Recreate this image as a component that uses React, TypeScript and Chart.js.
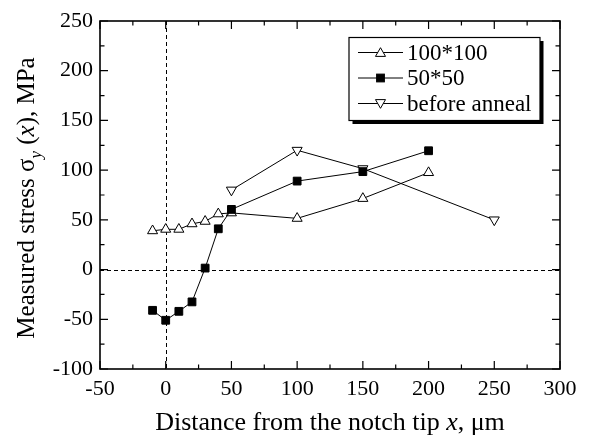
import React, { useEffect, useRef } from 'react';
import { Chart, registerables } from 'chart.js';

Chart.register(...registerables);

const FONT = '"Liberation Serif", "Times New Roman", Times, serif';

// Series: 100*100 (open up-triangles)
const xA = [-10, 0, 10, 20, 30, 40, 50, 100, 150, 200];
const yA = [39, 40.5, 40.5, 46, 48.5, 56, 57, 51.5, 71.5, 97.5];
// Series: 50*50 (filled squares)
const xB = [-10, 0, 10, 20, 30, 40, 50, 100, 150, 200];
const yB = [-41, -51, -42, -32.5, 1.5, 41, 60.5, 89, 98.5, 119.5];
// Series: before anneal (open down-triangles)
const xC = [50, 100, 150, 250];
const yC = [80, 120, 101.5, 50];

const legendLabels = ['100*100', '50*50', 'before anneal'];
const xRange = [-50, 300];
const yRange = [-100, 250];
const majorStep = 50;
const minorStep = 25;

const toPts = (xs: number[], ys: number[]) => xs.map((x, i) => ({ x, y: ys[i] }));

function drawTri(ctx: CanvasRenderingContext2D, cx: number, cy: number, r: number, down: boolean) {
  let a = down ? Math.PI : 0;
  ctx.beginPath();
  for (let i = 0; i < 3; i++) {
    const px = cx + Math.sin(a) * r;
    const py = cy - Math.cos(a) * r;
    if (i === 0) ctx.moveTo(px, py); else ctx.lineTo(px, py);
    a += (2 * Math.PI) / 3;
  }
  ctx.closePath();
  ctx.fillStyle = '#fff';
  ctx.fill();
  ctx.stroke();
}

function drawSquare(ctx: CanvasRenderingContext2D, cx: number, cy: number, r: number) {
  const s = Math.SQRT1_2 * r;
  ctx.fillStyle = '#000';
  ctx.fillRect(cx - s, cy - s, 2 * s, 2 * s);
  ctx.strokeRect(cx - s, cy - s, 2 * s, 2 * s);
}

function drawParts(ctx: CanvasRenderingContext2D, parts: { t: string; f: string; dy?: number }[], cx: number, by: number) {
  let total = 0;
  for (const p of parts) { ctx.font = p.f; total += ctx.measureText(p.t).width; }
  let x = cx - total / 2;
  for (const p of parts) {
    ctx.font = p.f;
    ctx.fillText(p.t, x, by + (p.dy || 0));
    x += ctx.measureText(p.t).width;
  }
}

const framePlugin = {
  id: 'framePlugin',
  beforeDatasetsDraw(chart: any) {
    const { ctx, chartArea: a, scales } = chart;
    const xs = scales.x, ys = scales.y;
    ctx.save();
    ctx.strokeStyle = '#000';
    ctx.lineWidth = 1;
    ctx.setLineDash([4, 3]);
    const x0 = Math.round(xs.getPixelForValue(0)) + 0.5;
    const y0 = Math.round(ys.getPixelForValue(0)) + 0.5;
    ctx.beginPath();
    ctx.moveTo(x0, a.top); ctx.lineTo(x0, a.bottom);
    ctx.moveTo(a.left, y0); ctx.lineTo(a.right, y0);
    ctx.stroke();
    ctx.restore();
  },
  afterDraw(chart: any) {
    const { ctx, chartArea: a, scales } = chart;
    const xs = scales.x, ys = scales.y;
    ctx.save();
    ctx.strokeStyle = '#000';
    ctx.setLineDash([]);
    // ticks
    ctx.lineWidth = 1.2;
    ctx.beginPath();
    for (let v = xRange[0]; v <= xRange[1]; v += minorStep) {
      const len = v % majorStep === 0 ? 8 : 4.5;
      const px = xs.getPixelForValue(v);
      ctx.moveTo(px, a.bottom); ctx.lineTo(px, a.bottom - len);
      ctx.moveTo(px, a.top); ctx.lineTo(px, a.top + len);
    }
    for (let v = yRange[0]; v <= yRange[1]; v += minorStep) {
      const len = v % majorStep === 0 ? 8 : 4.5;
      const py = ys.getPixelForValue(v);
      ctx.moveTo(a.left, py); ctx.lineTo(a.left + len, py);
      ctx.moveTo(a.right, py); ctx.lineTo(a.right - len, py);
    }
    ctx.stroke();
    // frame
    ctx.lineWidth = 1.6;
    ctx.strokeRect(a.left, a.top, a.right - a.left, a.bottom - a.top);

    // legend
    const L = 349, T = 37.5, R = 540, B = 120.5;
    ctx.fillStyle = '#000';
    ctx.fillRect(L + 3.5, T + 3.5, R - L, B - T);
    ctx.fillStyle = '#fff';
    ctx.fillRect(L, T, R - L, B - T);
    ctx.lineWidth = 1.2;
    ctx.strokeRect(L, T, R - L, B - T);
    const rows = [52.5, 78, 103.5];
    ctx.lineWidth = 1;
    rows.forEach((ry, i) => {
      ctx.beginPath();
      ctx.moveTo(358, ry); ctx.lineTo(403, ry);
      ctx.strokeStyle = '#000';
      ctx.stroke();
      if (i === 0) drawTri(ctx, 380.5, ry + 1, 5.8, false);
      else if (i === 1) drawSquare(ctx, 380.5, ry, 5.5);
      else drawTri(ctx, 380.5, ry - 1, 5.8, true);
      ctx.fillStyle = '#000';
      ctx.font = `23px ${FONT}`;
      ctx.textAlign = 'left';
      ctx.textBaseline = 'middle';
      ctx.fillText(legendLabels[i], 407, ry + 1);
    });

    // axis titles
    ctx.fillStyle = '#000';
    ctx.textAlign = 'left';
    ctx.textBaseline = 'alphabetic';
    const N = `26px ${FONT}`;
    const I = `italic 26px ${FONT}`;
    drawParts(ctx, [
      { t: 'Distance from the notch tip ', f: N },
      { t: 'x', f: I },
      { t: ', \u03bcm', f: N },
    ], (a.left + a.right) / 2, 430);

    const N2 = `25px ${FONT}`;
    const I2 = `italic 25px ${FONT}`;
    ctx.save();
    ctx.translate(34, 198);
    ctx.rotate(-Math.PI / 2);
    drawParts(ctx, [
      { t: 'Measured stress \u03c3', f: N2 },
      { t: 'y', f: `italic 17px ${FONT}`, dy: 7 },
      { t: ' (', f: N2 },
      { t: 'x', f: I2 },
      { t: '), MPa', f: N2 },
    ], 0, 0);
    ctx.restore();

    ctx.restore();
  },
};

export default function App() {
  const ref = useRef<HTMLCanvasElement | null>(null);
  useEffect(() => {
    if (!ref.current) return;
    const common = {
      showLine: true,
      borderColor: '#000',
      borderWidth: 1,
      pointBorderColor: '#000',
      pointBorderWidth: 1,
      pointHoverRadius: 6,
    };
    const chart = new Chart(ref.current, {
      type: 'scatter',
      data: {
        datasets: [
          {
            ...common,
            label: legendLabels[1],
            data: toPts(xB, yB),
            pointStyle: 'rect',
            pointRadius: 5.5,
            pointBackgroundColor: '#000',
          },
          {
            ...common,
            label: legendLabels[0],
            data: toPts(xA, yA),
            pointStyle: 'triangle',
            pointRadius: 5.8,
            pointBackgroundColor: '#fff',
          },
          {
            ...common,
            label: legendLabels[2],
            data: toPts(xC, yC),
            pointStyle: 'triangle',
            pointRotation: 180,
            pointRadius: 5.8,
            pointBackgroundColor: '#fff',
          },
        ],
      } as any,
      options: {
        responsive: false,
        animation: false,
        devicePixelRatio: 1,
        layout: { padding: { left: 0, right: 29, top: 21, bottom: 0 } },
        plugins: { legend: { display: false }, tooltip: { enabled: false } },
        scales: {
          x: {
            type: 'linear',
            min: xRange[0],
            max: xRange[1],
            grid: { display: false, drawTicks: false },
            border: { display: false },
            ticks: {
              stepSize: majorStep,
              color: '#000',
              font: { family: FONT, size: 22 },
              padding: 7,
              maxRotation: 0,
              autoSkip: false,
            },
            afterFit: (s: any) => { s.height = 67; },
          },
          y: {
            type: 'linear',
            min: yRange[0],
            max: yRange[1],
            grid: { display: false, drawTicks: false },
            border: { display: false },
            ticks: {
              stepSize: majorStep,
              color: '#000',
              font: { family: FONT, size: 22 },
              padding: 7,
              autoSkip: false,
            },
            afterFit: (s: any) => { s.width = 100; },
          },
        },
      } as any,
      plugins: [framePlugin],
    });
    return () => chart.destroy();
  }, []);
  return (
    <div style={{ position: 'fixed', left: 0, top: 0, width: 589, height: 436, background: '#fff' }}>
      <canvas ref={ref} width={589} height={436} style={{ width: 589, height: 436, display: 'block' }} />
    </div>
  );
}
